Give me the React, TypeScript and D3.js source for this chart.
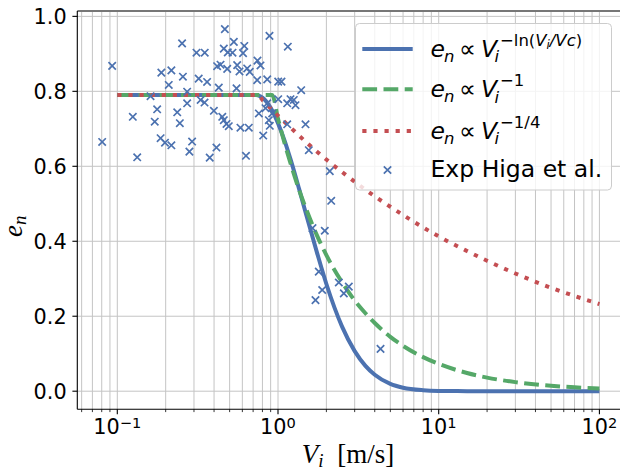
import React from "react";
import * as d3 from "d3";

// ---- data ----
const curveV = [0.1, 0.2, 0.4, 0.6, 0.73, 0.75, 0.8, 0.9, 0.92, 1.0, 1.1, 1.2, 1.35, 1.5, 1.75, 2.0, 2.5, 3.0, 3.5, 4.0, 5.0, 6.0, 8.0, 10, 15, 20, 30, 50, 70, 100];
const lnModel = [0.79, 0.79, 0.79, 0.79, 0.79, 0.789, 0.783, 0.756, 0.749, 0.715, 0.668, 0.617, 0.541, 0.47, 0.369, 0.286, 0.173, 0.107, 0.0676, 0.044, 0.0195, 0.0093, 0.0026, 0.0008, 0.0001, 0, 0, 0, 0, 0];
const invModel = [0.79, 0.79, 0.79, 0.79, 0.79, 0.79, 0.79, 0.79, 0.79, 0.727, 0.661, 0.606, 0.538, 0.485, 0.415, 0.363, 0.291, 0.242, 0.208, 0.182, 0.145, 0.121, 0.091, 0.073, 0.0485, 0.0363, 0.0242, 0.0145, 0.0104, 0.0073];
const quarterModel = [0.79, 0.79, 0.79, 0.79, 0.79, 0.79, 0.777, 0.755, 0.751, 0.735, 0.718, 0.703, 0.682, 0.664, 0.639, 0.618, 0.585, 0.559, 0.5375, 0.52, 0.492, 0.47, 0.437, 0.413, 0.374, 0.348, 0.314, 0.276, 0.254, 0.2325];

const expV = [0.0805, 0.0929, 0.1249, 0.133, 0.161, 0.171, 0.177, 0.186, 0.198, 0.188, 0.209, 0.217, 0.217, 0.236, 0.245, 0.253, 0.256, 0.272, 0.272, 0.292, 0.281, 0.311, 0.35, 0.321, 0.362, 0.33, 0.349, 0.376, 0.414, 0.399, 0.418, 0.439, 0.428, 0.45, 0.46, 0.478, 0.494, 0.467, 0.46, 0.487, 0.531, 0.521, 0.483, 0.557, 0.576, 0.617, 0.606, 0.643, 0.667, 0.552, 0.584, 0.658, 0.632, 0.745, 0.778, 0.742, 0.857, 0.885, 1.151, 1.003, 1.051, 1.394, 1.003, 0.857, 0.836, 0.76, 0.92, 0.877, 0.889, 0.809, 1.141, 1.196, 1.254, 1.285, 1.141, 1.483, 1.555, 2.1, 2.143, 1.639, 1.955, 1.794, 1.884, 1.711, 2.39, 2.568, 2.758, 4.345];
const expE = [0.665, 0.868, 0.732, 0.624, 0.787, 0.719, 0.752, 0.675, 0.663, 0.85, 0.817, 0.856, 0.656, 0.744, 0.715, 0.928, 0.839, 0.799, 0.768, 0.666, 0.639, 0.903, 0.903, 0.834, 0.825, 0.777, 0.77, 0.623, 0.65, 0.748, 0.867, 0.871, 0.81, 0.732, 0.723, 0.713, 0.707, 0.966, 0.914, 0.904, 0.932, 0.903, 0.86, 0.87, 0.853, 0.921, 0.902, 0.861, 0.852, 0.808, 0.703, 0.703, 0.628, 0.882, 0.869, 0.83, 0.832, 0.948, 0.919, 0.826, 0.826, 0.803, 0.779, 0.768, 0.755, 0.741, 0.741, 0.723, 0.708, 0.682, 0.768, 0.779, 0.777, 0.763, 0.712, 0.712, 0.643, 0.587, 0.508, 0.435, 0.428, 0.319, 0.27, 0.243, 0.29, 0.261, 0.279, 0.113];

const yTicks = [0.0, 0.2, 0.4, 0.6, 0.8, 1.0];
const xMajorExps = [-1, 0, 1, 2];
const xExpLabels = ["\u22121", "0", "1", "2"];

const BLUE = "#4c72b0";
const GREEN = "#55a868";
const RED = "#c44e52";

const W = 620;
const H = 473;
const L = 77.3, R = 624.4, T = 11, B = 409.3;

export default function App() {
  const x = d3.scaleLog().domain([Math.pow(10, -1.2489), Math.pow(10, 2.1555)]).range([L, R]);
  const y = d3.scaleLinear().domain([-0.0483, 1.0143]).range([B, T]);

  const minor: number[] = [];
  for (let e = -2; e <= 2; e++) {
    for (let m = 2; m <= 9; m++) {
      const v = m * Math.pow(10, e);
      if (x(v) >= L && x(v) <= R) minor.push(v);
    }
  }
  const majors = xMajorExps.map((e) => Math.pow(10, e));

  const line = d3
    .line<number>()
    .x((_, i) => x(curveV[i]))
    .y((d) => y(d))
    .curve(d3.curveMonotoneX);

  const gridColor = "#c4c4c4";
  const tickFont = "DejaVu Sans";
  const mathFont = "DejaVu Sans";
  const serif = "Liberation Serif";

  const cross = (cx: number, cy: number, s: number, key: any) => (
    <path
      key={key}
      d={`M${cx - s},${cy - s}L${cx + s},${cy + s}M${cx - s},${cy + s}L${cx + s},${cy - s}`}
      stroke={BLUE}
      strokeWidth={1.7}
      fill="none"
    />
  );

  const legendEntries = [
    { y: 56.5, sup: "ln" },
    { y: 97, sup: "-1" },
    { y: 138.5, sup: "-1/4" },
  ];

  return (
    <svg width={W} height={H} style={{ position: "absolute", left: 0, top: 0, background: "#fff" }}>
      <rect x={0} y={0} width={W} height={H} fill="#fff" />
      <defs>
        <clipPath id="plotclip">
          <rect x={L} y={T} width={R - L} height={B - T} />
        </clipPath>
      </defs>
      {/* grid */}
      <g stroke={gridColor} strokeWidth={1}>
        {minor.concat(majors).map((v, i) => (
          <line key={"gx" + i} x1={x(v)} x2={x(v)} y1={T} y2={B} />
        ))}
        {yTicks.map((t, i) => (
          <line key={"gy" + i} x1={L} x2={R} y1={y(t)} y2={y(t)} />
        ))}
      </g>
      {/* curves */}
      <g clipPath="url(#plotclip)" fill="none" strokeWidth={4}>
        <path d={line(lnModel) || ""} stroke={BLUE} />
        <path d={line(invModel) || ""} stroke={GREEN} strokeDasharray="14.8 6.4" />
        <path d={line(quarterModel) || ""} stroke={RED} strokeDasharray="4.2 6.9" />
      </g>
      {/* scatter */}
      <g clipPath="url(#plotclip)">
        {expV.map((v, i) => cross(x(v), y(expE[i]), 3.7, "p" + i))}
      </g>
      {/* spines */}
      <line x1={L} x2={R} y1={T} y2={T} stroke="#777" strokeWidth={2} />
      <line x1={L} x2={L} y1={T} y2={B} stroke="#000" strokeWidth={1.1} />
      <line x1={L} x2={R} y1={B} y2={B} stroke="#000" strokeWidth={1.1} />
      {/* ticks */}
      <g stroke="#000" strokeWidth={1.1}>
        {yTicks.map((t, i) => (
          <line key={"ty" + i} x1={L - 4.9} x2={L} y1={y(t)} y2={y(t)} />
        ))}
        {majors.map((v, i) => (
          <line key={"tx" + i} x1={x(v)} x2={x(v)} y1={B} y2={B + 4.9} />
        ))}
        {minor.map((v, i) => (
          <line key={"tm" + i} x1={x(v)} x2={x(v)} y1={B} y2={B + 2.8} strokeWidth={0.8} />
        ))}
      </g>
      {/* tick labels */}
      <g fontFamily={tickFont} fontSize={20.8} fill="#000">
        {yTicks.map((t, i) => (
          <text key={"ly" + i} x={66.7} y={y(t)} dy="0.36em" textAnchor="end">
            {t.toFixed(1)}
          </text>
        ))}
        {majors.map((v, i) => (
          <text key={"lx" + i} x={x(v)} y={434} textAnchor="middle">
            10
            <tspan fontSize={14.6} dy={-6.5}>
              {xExpLabels[i]}
            </tspan>
          </text>
        ))}
      </g>
      {/* axis labels */}
      <text x={348} y={463} textAnchor="middle" fontFamily={serif} fontSize={27} fill="#000">
        <tspan fontStyle="italic">V</tspan>
        <tspan fontStyle="italic" fontSize={19} dy={4}>i</tspan>
        <tspan dy={-4}>{"\u2002[m/s]"}</tspan>
      </text>
      <text
        transform="translate(21.5,237) rotate(-90)"
        textAnchor="start"
        fontFamily={serif}
        fontSize={27}
        fill="#000"
      >
        <tspan fontStyle="italic">e</tspan>
        <tspan fontStyle="italic" fontSize={19} dy={4}>n</tspan>
      </text>
      {/* legend */}
      <rect x={355.5} y={23.5} width={256} height={166.5} rx={4} fill="#fff" fillOpacity={0.8} stroke="#cccccc" strokeWidth={1} />
      <line x1={362.3} x2={412.7} y1={49} y2={49} stroke={BLUE} strokeWidth={4} />
      <line x1={362.3} x2={412.7} y1={89.3} y2={89.3} stroke={GREEN} strokeWidth={4} strokeDasharray="14.8 6.4" />
      <line x1={362.3} x2={412.7} y1={131} y2={131} stroke={RED} strokeWidth={4} strokeDasharray="4.2 6.9" />
      {cross(387.5, 170, 3.7, "legx")}
      <g fontFamily={mathFont} fill="#000">
        {legendEntries.map((en, i) => (
          <g key={"le" + i}>
            <text x={430.5} y={en.y} fontSize={23.5} fontStyle="italic">e</text>
            <text x={444} y={en.y + 5} fontSize={16.5} fontStyle="italic">n</text>
            <text x={459} y={en.y} fontSize={23.5}>{"\u221d"}</text>
            <text x={481} y={en.y} fontSize={23.5} fontStyle="italic">V</text>
            <text x={494.5} y={en.y + 5.5} fontSize={16.5} fontStyle="italic">i</text>
            {en.sup === "ln" ? (
              <text x={500} y={en.y - 11} fontSize={16.5}>
                {"\u2212ln("}
                <tspan fontStyle="italic">V</tspan>
                <tspan fontStyle="italic" fontSize={11.5} dy={3}>i</tspan>
                <tspan fontStyle="italic" dy={-3}>/Vc</tspan>
                <tspan>)</tspan>
              </text>
            ) : (
              <text x={500} y={en.y - 11} fontSize={16.5}>
                {en.sup.replace("-", "\u2212")}
              </text>
            )}
          </g>
        ))}
        <text x={430.5} y={176.7} fontSize={23.5}>Exp Higa et al.</text>
      </g>
    </svg>
  );
}
